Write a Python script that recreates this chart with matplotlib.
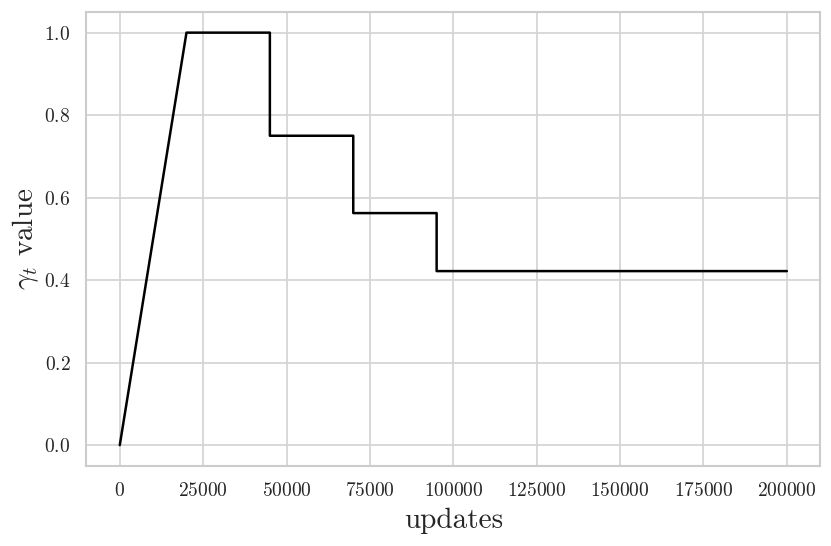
import matplotlib
matplotlib.use("Agg")
import matplotlib.pyplot as plt
import seaborn as sns

# schedule breakpoints (updates, gamma_t)
updates = [0, 20000, 45000, 45000, 70000, 70000, 95000, 95000, 200000]
gamma = [0.0, 1.0, 1.0, 0.75, 0.75, 0.5625, 0.5625, 0.421875, 0.421875]

sns.set_style("whitegrid")
plt.rcParams["font.family"] = ["cmr10", "DejaVu Serif"]
plt.rcParams["mathtext.fontset"] = "cm"
plt.rcParams["axes.formatter.use_mathtext"] = True

fig, ax = plt.subplots(figsize=(8.31, 5.46), dpi=100)
ax.plot(updates, gamma, color="black", linewidth=1.8)

ax.set_xlabel("updates", fontsize=21, labelpad=6)
ax.set_ylabel(r"$\gamma_t$ value", fontsize=21, labelpad=2)
ax.set_xticks([0, 25000, 50000, 75000, 100000, 125000, 150000, 175000, 200000])
ax.set_yticks([0.0, 0.2, 0.4, 0.6, 0.8, 1.0])
ax.tick_params(labelsize=14, pad=8)
for s in ax.spines.values():
    s.set_color("#cccccc")
    s.set_linewidth(1.5)
ax.grid(color="#d5d5d5", linewidth=1.3)

fig.subplots_adjust(left=0.104, right=0.987, top=0.978, bottom=0.147)
fig.savefig("out.png", dpi=100)
